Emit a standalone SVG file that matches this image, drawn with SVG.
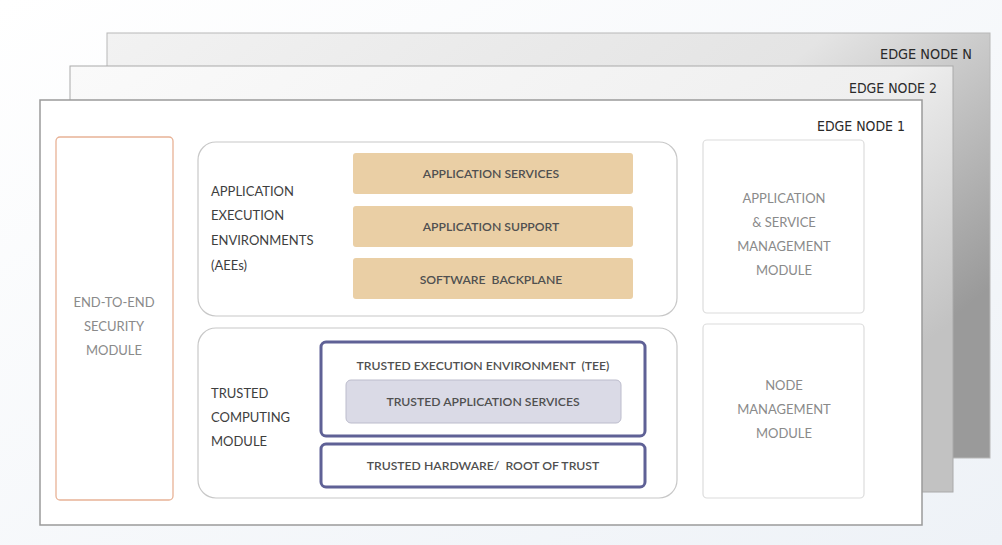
<svg xmlns="http://www.w3.org/2000/svg" width="1002" height="545" viewBox="0 0 1002 545">
<defs>
<linearGradient id="bg" x1="0" y1="0" x2="1" y2="1">
<stop offset="0" stop-color="#ffffff"/>
<stop offset="1" stop-color="#eef2f7"/>
</linearGradient>
<linearGradient id="gN" x1="0" y1="0" x2="1" y2="0.6">
<stop offset="0" stop-color="#f2f2f2"/>
<stop offset="0.6" stop-color="#e4e4e4"/>
<stop offset="1" stop-color="#9a9a9a"/>
</linearGradient>
<linearGradient id="g2" x1="0" y1="0" x2="1" y2="0.6">
<stop offset="0" stop-color="#fafafa"/>
<stop offset="0.7" stop-color="#efefef"/>
<stop offset="1" stop-color="#c2c2c2"/>
</linearGradient>
</defs>
<style>
.t{font-family:Lato,"Open Sans","Liberation Sans",sans-serif;}
.edge{font-family:"DejaVu Sans Condensed","Liberation Sans",sans-serif;font-size:14px;fill:#2a2a2a;text-anchor:end;}
.lbl{font-size:13px;fill:#3e3e3e;}
.grey{font-size:13px;fill:#8a8a8a;text-anchor:middle;}
.sm{font-size:12.2px;font-weight:600;fill:#505050;text-anchor:middle;white-space:pre;}
.tan{fill:#eacfa5;}
.blue{fill:#ffffff;stroke:#5f6196;stroke-width:3;}
.mod{fill:#ffffff;stroke:#dcdcdc;stroke-width:1.2;}
.grp{fill:#ffffff;stroke:#c8c8c8;stroke-width:1.2;}
</style>
<rect x="0" y="0" width="1002" height="545" fill="url(#bg)"/>
<g id="edge-node-n">
<rect x="107" y="33" width="883" height="425" fill="url(#gN)" stroke="#b8b8b8" stroke-width="1"/>
<text class="edge" x="972" y="59" textLength="92" lengthAdjust="spacingAndGlyphs">EDGE NODE N</text>
</g>
<g id="edge-node-2">
<rect x="70" y="66" width="883" height="426" fill="url(#g2)" stroke="#aaaaaa" stroke-width="1"/>
<text class="edge" x="937" y="93" textLength="88" lengthAdjust="spacingAndGlyphs">EDGE NODE 2</text>
</g>
<g id="edge-node-1">
<rect x="40" y="100" width="882" height="425" fill="#ffffff" stroke="#9a9a9a" stroke-width="1.5"/>
<text class="edge" x="905" y="131" textLength="88" lengthAdjust="spacingAndGlyphs">EDGE NODE 1</text>
</g>
<g id="security-module">
<rect x="56" y="137" width="117" height="363" rx="4" fill="#ffffff" stroke="#e8b296" stroke-width="1.3"/>
<text class="t grey" x="114" y="307">END-TO-END</text>
<text class="t grey" x="114" y="331">SECURITY</text>
<text class="t grey" x="114" y="355">MODULE</text>
</g>
<g id="aee">
<rect class="grp" x="198" y="142" width="479" height="174" rx="18"/>
<text class="t lbl" x="211" y="196">APPLICATION</text>
<text class="t lbl" x="211" y="220">EXECUTION</text>
<text class="t lbl" x="211" y="245">ENVIRONMENTS</text>
<text class="t lbl" x="211" y="270">(AEEs)</text>
</g>
<g id="app-services">
<rect class="tan" x="353" y="153" width="280" height="41" rx="3"/>
<text class="t sm" x="491" y="178">APPLICATION SERVICES</text>
</g>
<g id="app-support">
<rect class="tan" x="353" y="206" width="280" height="41" rx="3"/>
<text class="t sm" x="491" y="231">APPLICATION SUPPORT</text>
</g>
<g id="software-backplane">
<rect class="tan" x="353" y="258" width="280" height="41" rx="3"/>
<text class="t sm" x="491" y="284">SOFTWARE  BACKPLANE</text>
</g>
<g id="trusted-computing">
<rect class="grp" x="198" y="328" width="479" height="170" rx="18"/>
<text class="t lbl" x="211" y="398">TRUSTED</text>
<text class="t lbl" x="211" y="422">COMPUTING</text>
<text class="t lbl" x="211" y="446">MODULE</text>
</g>
<g id="tee">
<rect class="blue" x="321" y="342" width="324" height="94" rx="5"/>
<text class="t sm" x="483" y="370">TRUSTED EXECUTION ENVIRONMENT  (TEE)</text>
</g>
<g id="trusted-app-services">
<rect x="346" y="380" width="275" height="43" rx="5" fill="#dadae6" stroke="#bcbccc" stroke-width="1"/>
<text class="t sm" x="483" y="406">TRUSTED APPLICATION SERVICES</text>
</g>
<g id="trusted-hardware">
<rect class="blue" x="321" y="444" width="324" height="43" rx="5"/>
<text class="t sm" x="483" y="470">TRUSTED HARDWARE/  ROOT OF TRUST</text>
</g>
<g id="app-service-mgmt">
<rect class="mod" x="703" y="140" width="161" height="173" rx="4"/>
<text class="t grey" x="784" y="203">APPLICATION</text>
<text class="t grey" x="784" y="227">&amp; SERVICE</text>
<text class="t grey" x="784" y="251">MANAGEMENT</text>
<text class="t grey" x="784" y="275">MODULE</text>
</g>
<g id="node-mgmt">
<rect class="mod" x="703" y="324" width="161" height="174" rx="4"/>
<text class="t grey" x="784" y="390">NODE</text>
<text class="t grey" x="784" y="414">MANAGEMENT</text>
<text class="t grey" x="784" y="438">MODULE</text>
</g>
<g id="connectors"></g>
</svg>
